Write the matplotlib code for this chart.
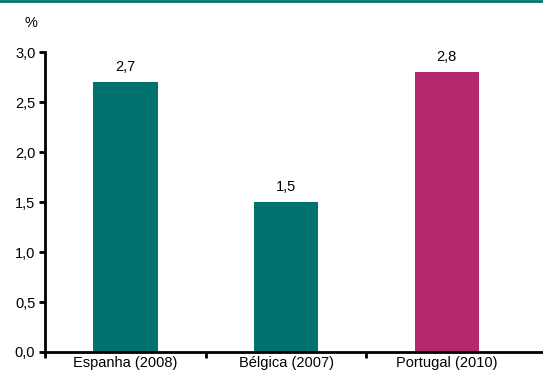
import matplotlib
matplotlib.use("Agg")
import matplotlib.pyplot as plt
from matplotlib.lines import Line2D

plt.rcParams['font.family'] = ['Liberation Sans', 'DejaVu Sans']

# dados
categorias = ["Espanha (2008)", "Bélgica (2007)", "Portugal (2010)"]
valores = [2.7, 1.5, 2.8]
cores = ["#007370", "#007370", "#B5286F"]
rotulos = ["2,7", "1,5", "2,8"]
yticks = [0.0, 0.5, 1.0, 1.5, 2.0, 2.5, 3.0]
ytick_labels = ["0,0", "0,5", "1,0", "1,5", "2,0", "2,5", "3,0"]

fig = plt.figure(figsize=(5.43, 3.8), dpi=100)
ax = fig.add_axes([0.083, 0.0737, 0.917, 0.789])

x = range(len(categorias))
bars = ax.bar(x, valores, width=0.4, color=cores)

for b, txt in zip(bars, rotulos):
    ax.text(b.get_x() + b.get_width() / 2, b.get_height() + 0.08, txt,
            ha="center", va="bottom", fontsize=10.5)

ax.set_xlim(-0.5, 2.6)
ax.set_ylim(0, 3.0)
ax.set_yticks(yticks)
ax.set_yticklabels(ytick_labels, fontsize=10.5)

# ticks do eixo x nas fronteiras das categorias
ax.set_xticks([-0.5, 0.5, 1.5])
ax.set_xticklabels([])
ax.set_xticks(list(x), minor=True)
ax.set_xticklabels(categorias, minor=True, fontsize=10.5)
ax.tick_params(axis="x", which="minor", length=0, pad=3)
ax.tick_params(axis="x", which="major", length=4, width=2, direction="out")
ax.tick_params(axis="y", length=4, width=2, direction="out", pad=3)

for s in ["top", "right"]:
    ax.spines[s].set_visible(False)
for s in ["left", "bottom"]:
    ax.spines[s].set_linewidth(2)

fig.text(0.057, 0.94, "%", fontsize=10.5, ha="center", va="center")

# linha no topo
fig.add_artist(Line2D([0, 1], [0.997, 0.997], color="#007370", lw=2,
                      transform=fig.transFigure))

fig.savefig("out.png", dpi=100)
